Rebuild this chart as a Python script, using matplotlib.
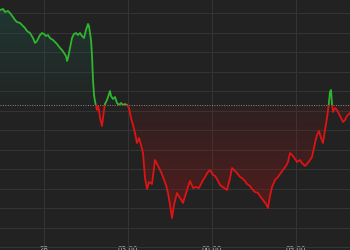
import numpy as np
import matplotlib
matplotlib.use("Agg")
import matplotlib.pyplot as plt
from matplotlib.path import Path
from matplotlib.patches import Rectangle

# hours from midnight of the 28th, and price
hours = [
    -1.571, -1.464, -1.393, -1.286, -1.214, -1.107, -1.036, -0.964, -0.857, -0.786,
    -0.679, -0.607, -0.500, -0.393, -0.321, -0.250, -0.143, -0.071, 0.000, 0.071,
    0.143, 0.214, 0.321, 0.393, 0.464, 0.571, 0.643, 0.714, 0.786, 0.821,
    0.857, 0.929, 1.000, 1.071, 1.143, 1.214, 1.286, 1.357, 1.429, 1.500,
    1.571, 1.607, 1.643, 1.679, 1.714, 1.750, 1.786, 1.821, 1.857, 1.893,
    1.929, 1.964, 2.000, 2.036, 2.071, 2.107, 2.143, 2.179, 2.250, 2.321,
    2.357, 2.393, 2.464, 2.536, 2.607, 2.679, 2.750, 2.821, 2.893, 2.964,
    3.036, 3.107, 3.179, 3.250, 3.321, 3.393, 3.464, 3.536, 3.607, 3.679,
    3.750, 3.857, 3.964, 4.071, 4.179, 4.250, 4.357, 4.429, 4.500, 4.571,
    4.643, 4.750, 4.857, 4.964, 5.107, 5.214, 5.321, 5.429, 5.536, 5.643,
    5.750, 5.857, 5.929, 6.036, 6.107, 6.179, 6.286, 6.429, 6.536, 6.643,
    6.714, 6.821, 6.893, 7.000, 7.071, 7.179, 7.250, 7.357, 7.429, 7.536,
    7.643, 7.714, 7.821, 7.929, 8.000, 8.071, 8.143, 8.250, 8.357, 8.429,
    8.536, 8.643, 8.714, 8.786, 8.893, 8.964, 9.036, 9.143, 9.214, 9.321,
    9.393, 9.500, 9.571, 9.679, 9.750, 9.821, 9.893, 9.964, 10.036, 10.107,
    10.143, 10.179, 10.214, 10.250, 10.286, 10.321, 10.393, 10.464, 10.536, 10.607,
    10.679, 10.750, 10.821, 10.929,
]
price = [
    1090, 1091, 1088, 1089, 1087, 1083, 1080, 1078, 1077, 1075,
    1072, 1069, 1067, 1062, 1057, 1059, 1065, 1067, 1066, 1064,
    1065, 1062, 1060, 1058, 1056, 1052, 1050, 1047, 1044, 1039,
    1042, 1052, 1062, 1066, 1067, 1065, 1067, 1064, 1062, 1070,
    1076, 1074, 1067, 1060, 1045, 1020, 1005, 999, 994, 990,
    994, 990, 982, 978, 974, 982, 990, 996, 1000, 1006,
    1009, 1004, 1001, 1003, 997, 995, 997, 995, 996, 995,
    992, 982, 975, 967, 957, 962, 955, 947, 922, 911,
    918, 916, 940, 934, 928, 923, 915, 907, 895, 882,
    895, 907, 902, 897, 910, 919, 912, 913, 912, 918,
    923, 928, 930, 925, 924, 921, 915, 912, 910, 922,
    932, 929, 927, 923, 922, 919, 916, 914, 911, 908,
    907, 904, 900, 896, 892, 904, 913, 920, 923, 926,
    930, 934, 938, 947, 944, 941, 938, 940, 937, 934,
    936, 940, 943, 957, 965, 969, 962, 957, 970, 982,
    990, 998, 1008, 1010, 996, 988, 992, 990, 986, 982,
    978, 980, 984, 987,
]
prev_close = 995
tick_hours = [0, 3, 6, 9]
tick_labels = ["28", "03:00", "06:00", "09:00"]

BG = "#222222"
GREEN = "#2fb52f"
RED = "#dd1414"

x = np.array(hours)
y = np.array(price)
xmin, xmax = -1.5714, 10.9286
ymin, ymax = 850, 1100

fig = plt.figure(figsize=(3.5, 2.5), dpi=100, facecolor=BG)
ax = fig.add_axes([0, 0, 1, 1])
ax.set_facecolor(BG)
ax.set_xlim(xmin, xmax)
ax.set_ylim(ymin, ymax)
for s in ax.spines.values():
    s.set_visible(False)

# grid
ax.set_yticks(np.arange(1087, ymin, -19.5))
ax.set_xticks(tick_hours)
ax.set_xticklabels(tick_labels)
ax.grid(True, color="#343434", linewidth=0.8)
ax.set_axisbelow(True)
ax.tick_params(axis="y", left=False, labelleft=False)
ax.tick_params(axis="x", length=0, pad=-2.6, labelsize=5, labelcolor="#bdbdbd")


def gradient_fill(mask, rgb, a_top, a_bottom, y_top, y_bottom):
    poly = ax.fill_between(x, y, prev_close, where=mask, interpolate=True,
                           facecolor="none", edgecolor="none")
    path = Path.make_compound_path(*poly.get_paths())
    alpha = np.linspace(a_top, a_bottom, 256)
    img = np.zeros((256, 1, 4))
    img[..., 0] = rgb[0]
    img[..., 1] = rgb[1]
    img[..., 2] = rgb[2]
    img[..., 3] = alpha[:, None]
    im = ax.imshow(img, extent=[xmin, xmax, y_bottom, y_top], origin="upper",
                   aspect="auto", zorder=1, interpolation="bilinear")
    im.set_clip_path(path, ax.transData)


gradient_fill(y >= prev_close, (0.12, 0.36, 0.30), 0.38, 0.04, 1095, prev_close)
gradient_fill(y <= prev_close, (0.62, 0.08, 0.08), 0.10, 0.40, prev_close, 880)

ax.axhline(prev_close, color="#8a8a8a", linewidth=0.7, linestyle=(0, (1, 1.5)), zorder=2)

# line coloured by side of the previous close
up = ax.plot(x, y, color=GREEN, linewidth=1.3, zorder=3)[0]
dn = ax.plot(x, y, color=RED, linewidth=1.3, zorder=3)[0]
up_clip = Rectangle((xmin, prev_close), xmax - xmin, ymax - prev_close + 50,
                    transform=ax.transData)
dn_clip = Rectangle((xmin, ymin - 50), xmax - xmin, prev_close - ymin + 50,
                    transform=ax.transData)
up.set_clip_path(up_clip)
dn.set_clip_path(dn_clip)

fig.savefig("out.png", dpi=100, facecolor=BG)
